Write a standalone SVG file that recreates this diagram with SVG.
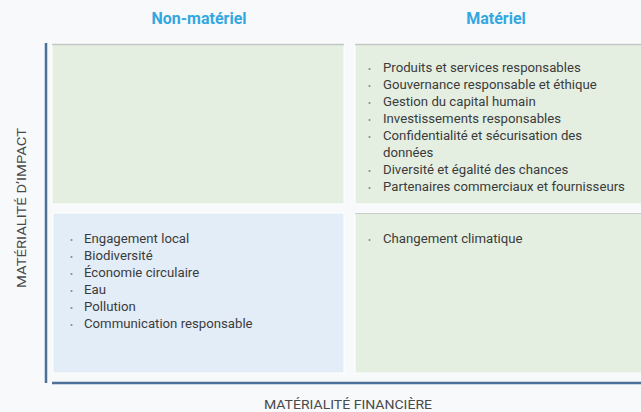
<svg xmlns="http://www.w3.org/2000/svg" width="641" height="412" viewBox="0 0 641 412">
<style>
.hdr{font-family:Roboto,"Liberation Sans",sans-serif;font-size:16px;font-weight:bold;fill:#33a7df;text-anchor:middle}
.axis{font-family:Roboto,"Liberation Sans",sans-serif;font-size:13px;fill:#4a4a4a;text-anchor:middle}
.item{font-family:Roboto,"Liberation Sans",sans-serif;font-size:13.2px;fill:#3b3b3b}
.dot{fill:#8a8a8a}
.green{fill:#e4efe2;stroke:#ffffff;stroke-width:1}
.blue{fill:#e3edf8;stroke:#ffffff;stroke-width:1}
.axisline{stroke:#4d7199;stroke-width:2.5}
</style>
<rect width="641" height="412" fill="#f7f9fb"/>
<text class="hdr" x="199" y="24">Non-matériel</text>
<text class="hdr" x="496" y="24">Matériel</text>
<g id="q-top-left">
<rect class="green" x="52" y="44" width="292" height="160"/>
<line x1="52" y1="44.5" x2="344" y2="44.5" stroke="#c3c6c4" stroke-width="1.5"/>
</g>
<g id="q-top-right">
<rect class="green" x="355" y="44" width="290" height="160"/>
<line x1="355" y1="44.5" x2="641" y2="44.5" stroke="#c3c6c4" stroke-width="1.5"/>
<circle class="dot" cx="369.5" cy="69" r="1.1"/>
<circle class="dot" cx="369.5" cy="86" r="1.1"/>
<circle class="dot" cx="369.5" cy="103" r="1.1"/>
<circle class="dot" cx="369.5" cy="120" r="1.1"/>
<circle class="dot" cx="369.5" cy="137" r="1.1"/>
<circle class="dot" cx="369.5" cy="171" r="1.1"/>
<circle class="dot" cx="369.5" cy="188" r="1.1"/>
<text class="item" x="383" y="72">Produits et services responsables</text>
<text class="item" x="383" y="89">Gouvernance responsable et éthique</text>
<text class="item" x="383" y="106">Gestion du capital humain</text>
<text class="item" x="383" y="123">Investissements responsables</text>
<text class="item" x="383" y="140">Confidentialité et sécurisation des</text>
<text class="item" x="383" y="157">données</text>
<text class="item" x="383" y="174">Diversité et égalité des chances</text>
<text class="item" x="383" y="191">Partenaires commerciaux et fournisseurs</text>
</g>
<g id="q-bottom-left">
<rect class="blue" x="53" y="213" width="291" height="160"/>
<circle class="dot" cx="71.5" cy="240" r="1.1"/>
<circle class="dot" cx="71.5" cy="257" r="1.1"/>
<circle class="dot" cx="71.5" cy="274" r="1.1"/>
<circle class="dot" cx="71.5" cy="291" r="1.1"/>
<circle class="dot" cx="71.5" cy="308" r="1.1"/>
<circle class="dot" cx="71.5" cy="325" r="1.1"/>
<text class="item" x="84" y="243">Engagement local</text>
<text class="item" x="84" y="260">Biodiversité</text>
<text class="item" x="84" y="277">Économie circulaire</text>
<text class="item" x="84" y="294">Eau</text>
<text class="item" x="84" y="311">Pollution</text>
<text class="item" x="84" y="328">Communication responsable</text>
</g>
<g id="q-bottom-right">
<rect class="green" x="355" y="213" width="290" height="160"/>
<line x1="355" y1="213.5" x2="641" y2="213.5" stroke="#c9ccca" stroke-width="1"/>
<circle class="dot" cx="369.5" cy="240" r="1.1"/>
<text class="item" x="383" y="243">Changement climatique</text>
</g>
<g id="connectors">
<line class="axisline" x1="46" y1="43" x2="46" y2="383"/>
<line class="axisline" x1="52" y1="383" x2="641" y2="383"/>
</g>
<text class="axis" x="348" y="409" textLength="168" lengthAdjust="spacingAndGlyphs">MATÉRIALITÉ FINANCIÈRE</text>
<text class="axis" transform="translate(26,208) rotate(-90)" textLength="160" lengthAdjust="spacingAndGlyphs">MATÉRIALITÉ D’IMPACT</text>
</svg>
